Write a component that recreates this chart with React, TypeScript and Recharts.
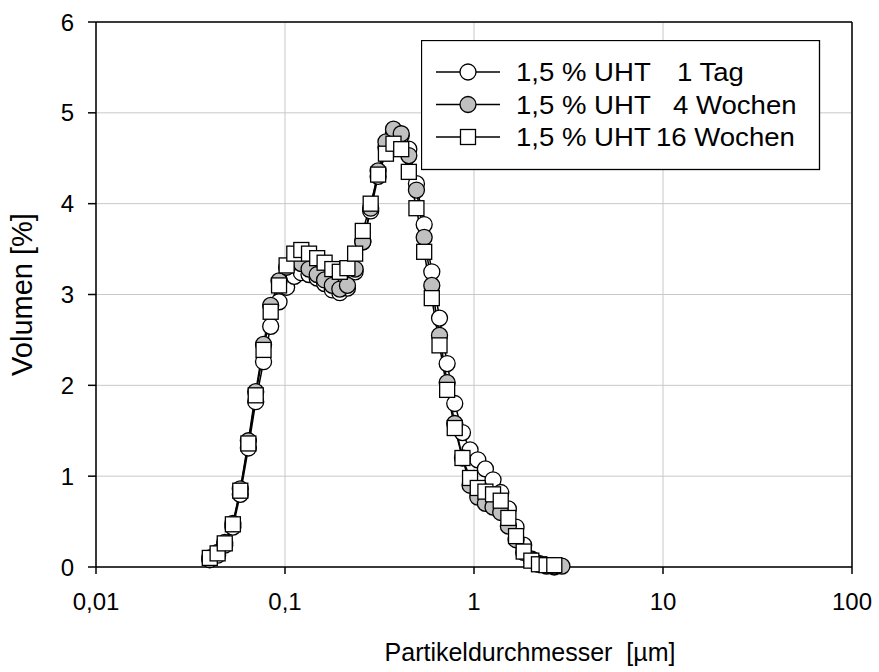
import React from 'react';
import { LineChart, Line, XAxis, YAxis, CartesianGrid, ReferenceLine, Legend } from 'recharts';

// Partikelgrößenklassen [µm]
const sizes = [
  0.04, 0.044, 0.048, 0.053, 0.058, 0.064, 0.07, 0.077, 0.084, 0.093, 0.102, 0.112,
  0.122, 0.134, 0.148, 0.162, 0.178, 0.195, 0.214, 0.235, 0.258, 0.284, 0.311, 0.342,
  0.375, 0.412, 0.452, 0.496, 0.545, 0.598, 0.657, 0.721, 0.791, 0.869, 0.953, 1.047,
  1.149, 1.261, 1.385, 1.52, 1.669, 1.832, 2.011, 2.207, 2.423, 2.66, 2.92,
];

const tag1 = [
  0.08, 0.13, 0.24, 0.44, 0.8, 1.31, 1.82, 2.26, 2.65, 2.92, 3.08, 3.2,
  3.24, 3.22, 3.18, 3.12, 3.05, 3.02, 3.07, 3.25, 3.58, 3.92, 4.3, 4.62,
  4.78, 4.75, 4.6, 4.22, 3.77, 3.25, 2.74, 2.24, 1.8, 1.48, 1.29, 1.18,
  1.08, 0.96, 0.82, 0.64, 0.44, 0.24, 0.09, 0.03, 0.01, 0,
];

const wochen4 = [
  0.1, 0.16, 0.27, 0.48, 0.86, 1.39, 1.93, 2.45, 2.88, 3.15, 3.3, 3.36,
  3.34, 3.28, 3.22, 3.16, 3.1, 3.06, 3.1, 3.28, 3.58, 3.95, 4.36, 4.68,
  4.82, 4.77, 4.53, 4.15, 3.63, 3.1, 2.55, 2.03, 1.58, 1.2, 0.9, 0.77,
  0.7, 0.66, 0.6, 0.45, 0.3, 0.16, 0.08, 0.04, 0.02, 0.01, 0.01,
];

const wochen16 = [
  0.1, 0.15, 0.26, 0.47, 0.84, 1.36, 1.89, 2.39, 2.81, 3.1, 3.32, 3.45,
  3.49, 3.45, 3.4, 3.35, 3.28, 3.25, 3.29, 3.45, 3.7, 4.0, 4.32, 4.55,
  4.66, 4.6, 4.35, 3.95, 3.47, 2.96, 2.44, 1.95, 1.53, 1.2, 0.98, 0.87,
  0.83, 0.8, 0.73, 0.54, 0.34, 0.17, 0.07, 0.03, 0.02, 0.02,
];

const xTicks = [0.01, 0.1, 1, 10, 100];
const yTicks = [0, 1, 2, 3, 4, 5, 6];
const legendPrefix = '1,5 % UHT';
const legendSuffix = ['1 Tag', '4 Wochen', '16 Wochen'];
const legendSuffixX = [256, 252, 235];

const FONT = '"Liberation Sans", Arial, sans-serif';
const GRAY = '#c0c0c0';

const toPoints = (vals: number[]) => vals.map((v, i) => ({ x: sizes[i], y: v }));

const fmt = (v: number) => String(v).replace('.', ',');

const XTick = (props: any) => {
  const { x, y, payload } = props;
  return (
    <text x={x} y={y} textAnchor="middle" dy="0.71em" fontSize={24} fill="#000">
      {fmt(payload.value)}
    </text>
  );
};

const YTick = (props: any) => {
  const { x, y, payload } = props;
  return (
    <text x={x} y={y} textAnchor="end" dy="0.355em" fontSize={24} fill="#000">
      {fmt(payload.value)}
    </text>
  );
};

const circleDot = (fill: string) => (p: any) => (
  <circle key={`c${p.index}`} cx={p.cx} cy={p.cy} r={8} fill={fill} stroke="#000" strokeWidth={1.3} />
);

const squareDot = (p: any) => (
  <rect key={`s${p.index}`} x={p.cx - 7.5} y={p.cy - 7.5} width={15} height={15} fill="#fff" stroke="#000" strokeWidth={1.3} />
);

const legendMarker = (i: number, cy: number) => {
  if (i === 2) return <rect x={39.5} y={cy - 7.5} width={15} height={15} fill="#fff" stroke="#000" strokeWidth={1.3} />;
  return <circle cx={47} cy={cy} r={8} fill={i === 0 ? '#fff' : GRAY} stroke="#000" strokeWidth={1.3} />;
};

const renderLegend = () => (
  <svg width={400} height={131} style={{ display: 'block', fontFamily: FONT }}>
    <rect x={0.5} y={0.5} width={398} height={129} fill="#fff" stroke="#000" strokeWidth={1.3} />
    {legendSuffix.map((s, i) => {
      const cy = 32 + i * 32.5;
      return (
        <g key={s}>
          <line x1={15} x2={79} y1={cy} y2={cy} stroke="#000" strokeWidth={1.3} />
          {legendMarker(i, cy)}
          <text transform={`translate(95,${cy}) scale(1.06,1)`} dy="0.355em" fontSize={26} fill="#000">
            {legendPrefix}
          </text>
          <text transform={`translate(${legendSuffixX[i]},${cy}) scale(1.06,1)`} dy="0.355em" fontSize={26} fill="#000">
            {s}
          </text>
        </g>
      );
    })}
  </svg>
);

const XTitle = (props: any) => {
  const vb = props.viewBox;
  return (
    <text
      x={vb.x + vb.width / 2 + 56}
      y={vb.y + 94}
      textAnchor="middle"
      fontSize={25}
      fill="#000"
      style={{ whiteSpace: 'pre' }}
    >
      {'Partikeldurchmesser  [µm]'}
    </text>
  );
};

const YTitle = (props: any) => {
  const vb = props.viewBox;
  return (
    <text transform={`translate(${vb.x - 14},${vb.y + vb.height / 2}) rotate(-90)`} textAnchor="middle" dy="0.355em" fontSize={29} fill="#000">
      Volumen [%]
    </text>
  );
};

export default function App() {
  return (
    <div style={{ position: 'absolute', left: 0, top: 0, width: 879, height: 672, background: '#fff', fontFamily: FONT }}>
      <LineChart width={879} height={672} margin={{ top: 22, right: 27, bottom: 75, left: 36 }} style={{ fontFamily: FONT }}>
        <CartesianGrid stroke="#c8c8c8" strokeWidth={1} />
        <XAxis
          type="number"
          dataKey="x"
          scale="log"
          domain={[0.01, 100]}
          ticks={xTicks}
          allowDataOverflow
          height={30}
          stroke="#000"
          strokeWidth={1.5}
          tickSize={7}
          tickMargin={19}
          tick={<XTick />}
          label={{ content: <XTitle /> }}
        />
        <YAxis
          type="number"
          dataKey="y"
          domain={[0, 6]}
          ticks={yTicks}
          width={60}
          stroke="#000"
          strokeWidth={1.5}
          tickSize={8}
          tickMargin={14}
          tick={<YTick />}
          label={{ content: <YTitle /> }}
        />
        <ReferenceLine y={6} stroke="#000" strokeWidth={1.5} />
        <ReferenceLine x={100} stroke="#000" strokeWidth={1.5} />
        <Legend
          layout="horizontal"
          verticalAlign="middle"
          align="center"
          wrapperStyle={{ left: 421, top: 40, width: 400, height: 131 }}
          content={renderLegend}
        />
        <Line
          data={toPoints(tag1)}
          dataKey="y"
          type="linear"
          stroke="#000"
          strokeWidth={1.5}
          dot={circleDot('#fff')}
          activeDot={false}
          isAnimationActive={false}
        />
        <Line
          data={toPoints(wochen4)}
          dataKey="y"
          type="linear"
          stroke="#000"
          strokeWidth={1.5}
          dot={circleDot(GRAY)}
          activeDot={false}
          isAnimationActive={false}
        />
        <Line
          data={toPoints(wochen16)}
          dataKey="y"
          type="linear"
          stroke="#000"
          strokeWidth={1.5}
          dot={squareDot}
          activeDot={false}
          isAnimationActive={false}
        />
      </LineChart>
    </div>
  );
}
